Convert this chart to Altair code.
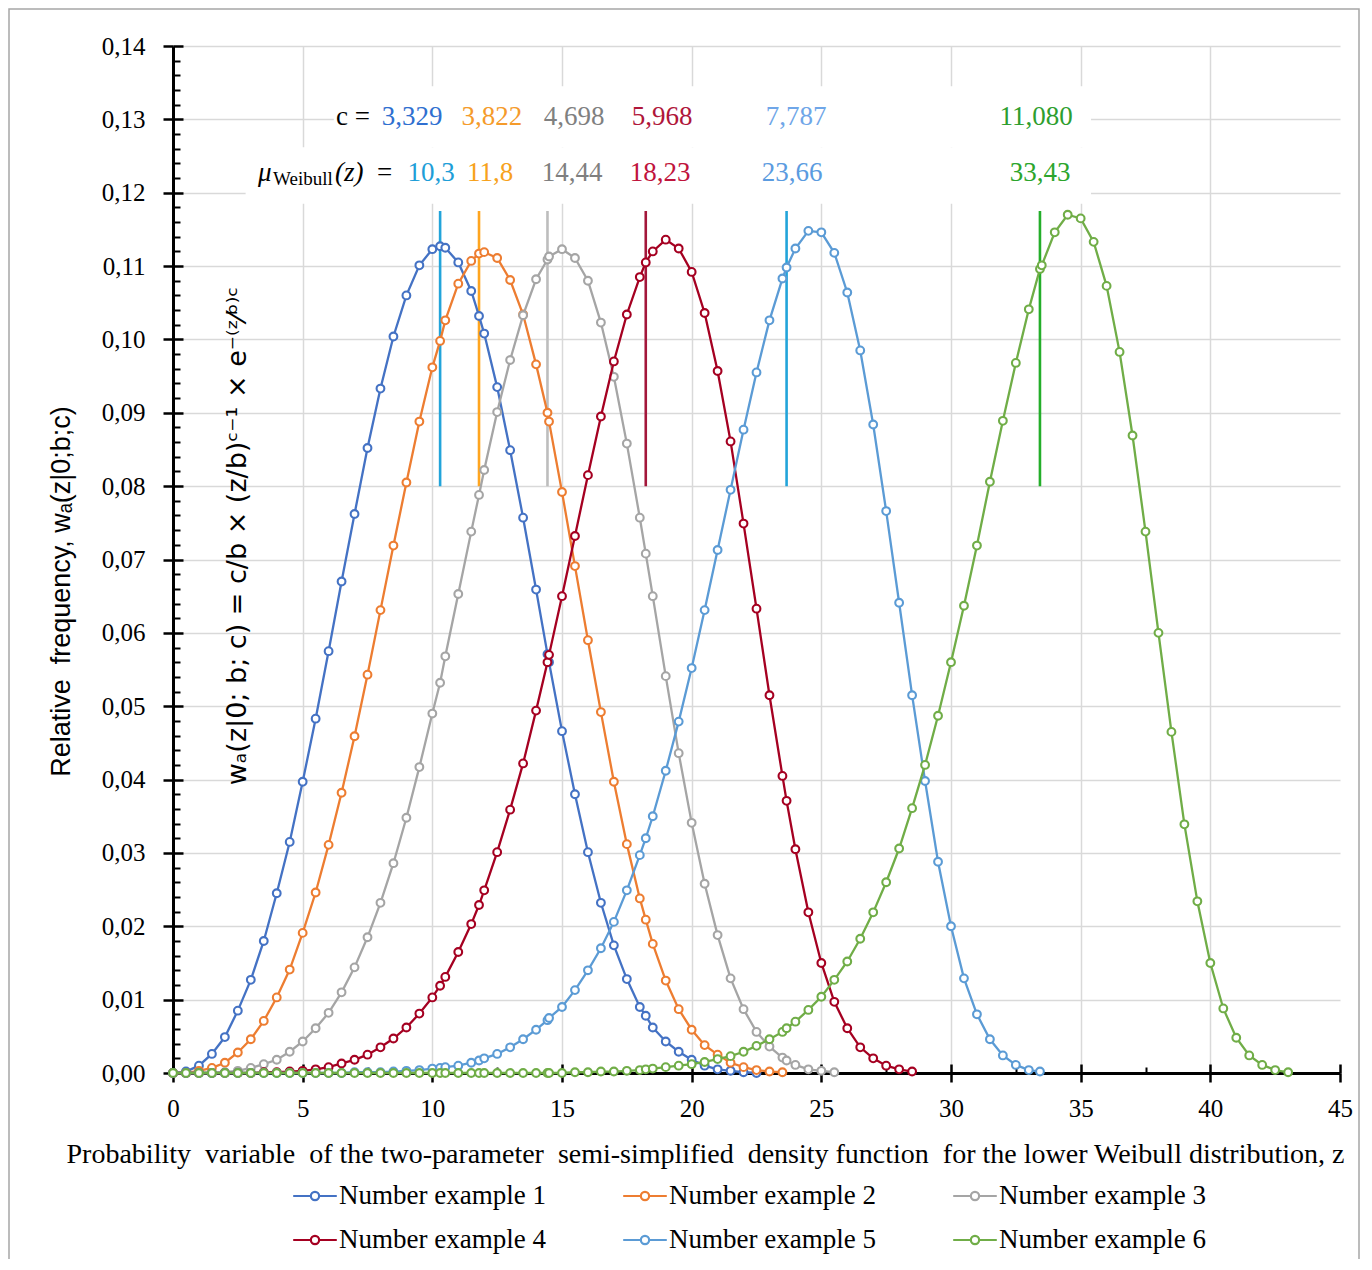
import altair as alt
import pandas as pd

# ---------------- data ----------------
SERIES = ["Number example 1", "Number example 2", "Number example 3",
          "Number example 4", "Number example 5", "Number example 6"]
COLORS = ["#4472C4", "#ED7D31", "#A5A5A5", "#A50021", "#5B9BD5", "#70AD47"]

z1 = [0, 0.5, 1, 1.5, 2, 2.5, 3, 3.5, 4, 4.5, 5, 5.5, 6, 6.5, 7, 7.5, 8, 8.5, 9, 9.5,
      10, 10.3, 10.5, 11, 11.5, 11.8, 12, 12.5, 13, 13.5, 14, 14.44, 14.5, 15, 15.5, 16, 16.5, 17, 17.5, 18,
      18.23, 18.5, 19, 19.5, 20, 20.5, 21, 21.5, 22, 22.5]
w1 = [0, 0.0002, 0.0010, 0.0026, 0.0049, 0.0085, 0.0127, 0.0180, 0.0245, 0.0315,
      0.0397, 0.0483, 0.0575, 0.0670, 0.0762, 0.0852, 0.0933, 0.1004, 0.1060, 0.1101,
      0.1123, 0.1127, 0.1125, 0.1105, 0.1066, 0.1032, 0.1008, 0.0935, 0.0849, 0.0757,
      0.0659, 0.0571, 0.0560, 0.0466, 0.0380, 0.0301, 0.0232, 0.0174, 0.0128, 0.0090,
      0.0078, 0.0062, 0.0043, 0.0029, 0.0018, 0.0010, 0.0005, 0.0003, 0.0001, 0.0000]

z2 = [0, 0.5, 1, 1.5, 2, 2.5, 3, 3.5, 4, 4.5, 5, 5.5, 6, 6.5, 7, 7.5, 8, 8.5, 9, 9.5,
      10, 10.3, 10.5, 11, 11.5, 11.8, 12, 12.5, 13, 13.5, 14, 14.44, 14.5, 15, 15.5, 16, 16.5, 17, 17.5, 18,
      18.23, 18.5, 19, 19.5, 20, 20.5, 21, 21.5, 22, 22.5, 23, 23.5]
w2 = [0, 0.0000, 0.0003, 0.0007, 0.0014, 0.0028, 0.0046, 0.0071, 0.0103, 0.0141,
      0.0191, 0.0246, 0.0311, 0.0382, 0.0459, 0.0543, 0.0631, 0.0719, 0.0805, 0.0888,
      0.0962, 0.0998, 0.1026, 0.1076, 0.1107, 0.1117, 0.1119, 0.1111, 0.1081, 0.1034,
      0.0966, 0.0900, 0.0888, 0.0792, 0.0691, 0.0590, 0.0492, 0.0397, 0.0312, 0.0238,
      0.0209, 0.0176, 0.0126, 0.0087, 0.0059, 0.0038, 0.0025, 0.0014, 0.0008, 0.0004,
      0.0002, 0.0001]

z3 = [0, 0.5, 1, 1.5, 2, 2.5, 3, 3.5, 4, 4.5, 5, 5.5, 6, 6.5, 7, 7.5, 8, 8.5, 9, 9.5,
      10, 10.3, 10.5, 11, 11.5, 11.8, 12, 12.5, 13, 13.5, 14, 14.44, 14.5, 15, 15.5, 16, 16.5, 17, 17.5, 18,
      18.23, 18.5, 19, 19.5, 20, 20.5, 21, 21.5, 22, 22.5, 23, 23.5, 23.66, 24, 24.5, 25, 25.5]
w3 = [0, 0, 0.0000, 0.0000, 0.0001, 0.0003, 0.0007, 0.0012, 0.0018, 0.0029,
      0.0043, 0.0061, 0.0082, 0.0110, 0.0144, 0.0185, 0.0232, 0.0286, 0.0348, 0.0417,
      0.0490, 0.0532, 0.0568, 0.0653, 0.0738, 0.0788, 0.0822, 0.0901, 0.0972, 0.1033,
      0.1082, 0.1109, 0.1113, 0.1123, 0.1111, 0.1080, 0.1023, 0.0949, 0.0858, 0.0757,
      0.0708, 0.0650, 0.0541, 0.0436, 0.0341, 0.0258, 0.0188, 0.0129, 0.0087, 0.0056,
      0.0036, 0.0021, 0.0017, 0.0011, 0.0005, 0.0003, 0.0001]

z4 = [0, 0.5, 1, 1.5, 2, 2.5, 3, 3.5, 4, 4.5, 5, 5.5, 6, 6.5, 7, 7.5, 8, 8.5, 9, 9.5,
      10, 10.3, 10.5, 11, 11.5, 11.8, 12, 12.5, 13, 13.5, 14, 14.44, 14.5, 15, 15.5, 16, 16.5, 17, 17.5, 18,
      18.23, 18.5, 19, 19.5, 20, 20.5, 21, 21.5, 22, 22.5, 23, 23.5, 23.66, 24, 24.5, 25, 25.5, 26, 26.5,
      27, 27.5, 28, 28.5]
w4 = [0, 0, 0, 0, 0, 0, 0.0000, 0.0001, 0.0001, 0.0002,
      0.0003, 0.0005, 0.0008, 0.0013, 0.0018, 0.0025, 0.0035, 0.0047, 0.0062, 0.0081,
      0.0103, 0.0119, 0.0131, 0.0165, 0.0203, 0.0229, 0.0249, 0.0301, 0.0359, 0.0422,
      0.0494, 0.0560, 0.0570, 0.0650, 0.0732, 0.0815, 0.0895, 0.0970, 0.1034, 0.1085,
      0.1105, 0.1120, 0.1136, 0.1124, 0.1092, 0.1036, 0.0957, 0.0861, 0.0749, 0.0633,
      0.0515, 0.0405, 0.0371, 0.0305, 0.0219, 0.0150, 0.0097, 0.0061, 0.0035,
      0.0020, 0.0010, 0.0005, 0.0002]

z5 = [0, 0.5, 1, 1.5, 2, 2.5, 3, 3.5, 4, 4.5, 5, 5.5, 6, 6.5, 7, 7.5, 8, 8.5, 9, 9.5,
      10, 10.3, 10.5, 11, 11.5, 11.8, 12, 12.5, 13, 13.5, 14, 14.44, 14.5, 15, 15.5, 16, 16.5, 17, 17.5, 18,
      18.23, 18.5, 19, 19.5, 20, 20.5, 21, 21.5, 22, 22.5, 23, 23.5, 23.66, 24, 24.5, 25, 25.5, 26, 26.5,
      27, 27.5, 28, 28.5, 29, 29.5, 30, 30.5, 31, 31.5, 32, 32.5, 33, 33.43]
w5 = [0, 0, 0, 0, 0, 0, 0, 0, 0, 0,
      0, 0, 0, 0.0000, 0.0001, 0.0001, 0.0001, 0.0002, 0.0003, 0.0004,
      0.0006, 0.0007, 0.0008, 0.0010, 0.0014, 0.0017, 0.0020, 0.0026, 0.0035, 0.0046,
      0.0059, 0.0072, 0.0075, 0.0090, 0.0113, 0.0140, 0.0170, 0.0206, 0.0249, 0.0297,
      0.0320, 0.0350, 0.0412, 0.0479, 0.0552, 0.0631, 0.0713, 0.0795, 0.0877, 0.0955,
      0.1026, 0.1083, 0.1098, 0.1124, 0.1148, 0.1146, 0.1118, 0.1064, 0.0985,
      0.0884, 0.0766, 0.0641, 0.0515, 0.0398, 0.0288, 0.0200, 0.0129, 0.0080, 0.0046,
      0.0024, 0.0011, 0.0004, 0.0002]

z6 = [0, 0.5, 1, 1.5, 2, 2.5, 3, 3.5, 4, 4.5, 5, 5.5, 6, 6.5, 7, 7.5, 8, 8.5, 9, 9.5,
      10, 10.3, 10.5, 11, 11.5, 11.8, 12, 12.5, 13, 13.5, 14, 14.44, 14.5, 15, 15.5, 16, 16.5, 17, 17.5, 18,
      18.23, 18.5, 19, 19.5, 20, 20.5, 21, 21.5, 22, 22.5, 23, 23.5, 23.66, 24, 24.5, 25, 25.5, 26, 26.5,
      27, 27.5, 28, 28.5, 29, 29.5, 30, 30.5, 31, 31.5, 32, 32.5, 33, 33.43, 33.5, 34, 34.5, 35, 35.5,
      36, 36.5, 37, 37.5, 38, 38.5, 39, 39.5, 40, 40.5, 41, 41.5, 42, 42.5, 43]
w6 = [0, 0, 0, 0, 0, 0, 0, 0, 0, 0,
      0, 0, 0, 0, 0, 0, 0, 0, 0, 0,
      0, 0, 0, 0, 0, 0, 0, 0, 0, 0,
      0, 0, 0, 0.0000, 0.0001, 0.0001, 0.0002, 0.0002, 0.0003, 0.0004,
      0.0005, 0.0006, 0.0008, 0.0010, 0.0012, 0.0015, 0.0019, 0.0023, 0.0029, 0.0037,
      0.0046, 0.0056, 0.0061, 0.0070, 0.0086, 0.0104, 0.0127, 0.0152, 0.0183,
      0.0219, 0.0260, 0.0306, 0.0361, 0.0420, 0.0487, 0.0560, 0.0637, 0.0719, 0.0806,
      0.0889, 0.0968, 0.1041, 0.1096, 0.1101, 0.1146, 0.1170, 0.1165, 0.1133,
      0.1073, 0.0983, 0.0869, 0.0738, 0.0600, 0.0465, 0.0339, 0.0234, 0.0150, 0.0088,
      0.0048, 0.0024, 0.0011, 0.0004, 0.0001]

Z = [z1, z2, z3, z4, z5, z6]
W = [w1, w2, w3, w4, w5, w6]

# mean (expected value) markers
MEANS = [10.3, 11.8, 14.44, 18.23, 23.66, 33.43]
MEAN_COLORS = ["#22A4DA", "#FFA51F", "#BDBDBD", "#A3173B", "#22A4DA", "#24AE2A"]
MEAN_Y0 = [0.08] * 6
MEAN_Y1 = [0.1175] * 6

# annotation rows
C_LABELS = ["3,329", "3,822", "4,698", "5,968", "7,787", "11,080"]
C_POS = [9.22, 12.30, 15.47, 18.86, 24.03, 33.28]
C_COLORS = ["#2F6FD0", "#F59B2B", "#808080", "#B0163A", "#6FA6E8", "#2E9E2E"]
MU_LABELS = ["10,3", "11,8", "14,44", "18,23", "23,66", "33,43"]
MU_POS = [9.95, 12.23, 15.39, 18.78, 23.87, 33.44]
MU_COLORS = ["#1E9ED8", "#F7A21C", "#7F7F7F", "#C0143C", "#5B9BE0", "#2CA52C"]
ROW_C_Y = 0.1303
ROW_MU_Y = 0.1227

# white background boxes behind the annotation rows
BOX_X1 = [2.8, 6.2]
BOX_X2 = [35.4, 35.4]
BOX_Y1 = [0.1185, 0.1262]
BOX_Y2 = [0.1262, 0.1345]

# ---------------- build tables ----------------
rows = []
for name, zs, ws in zip(SERIES, Z, W):
    assert len(zs) == len(ws), (name, len(zs), len(ws))
    for zv, wv in zip(zs, ws):
        rows.append({"series": name, "z": zv, "w": wv})
df = pd.DataFrame(rows)

mean_df = pd.DataFrame({"z": MEANS, "y0": MEAN_Y0, "y1": MEAN_Y1, "col": MEAN_COLORS})
box_df = pd.DataFrame({"x1": BOX_X1, "x2": BOX_X2, "y1": BOX_Y1, "y2": BOX_Y2})

ann_rows = []
for t, p, c in zip(C_LABELS, C_POS, C_COLORS):
    ann_rows.append({"t": t, "x": p, "y": ROW_C_Y, "col": c})
for t, p, c in zip(MU_LABELS, MU_POS, MU_COLORS):
    ann_rows.append({"t": t, "x": p, "y": ROW_MU_Y, "col": c})
ann_df = pd.DataFrame(ann_rows)

lab_df = pd.DataFrame({
    "t": ["c =", "="],
    "x": [6.29, 7.87],
    "y": [ROW_C_Y, ROW_MU_Y],
})
ital_df = pd.DataFrame({"t": ["μ", "(z)"], "x": [3.28, 6.25], "y": [ROW_MU_Y, ROW_MU_Y]})
sub_df = pd.DataFrame({"t": ["Weibull"], "x": [3.86], "y": [ROW_MU_Y - 0.0008]})
formula_df = pd.DataFrame({
    "t": ["wₐ(z|0; b; c) = c/b × (z/b)ᶜ⁻¹ × e⁻⁽ᶻ⁄ᵇ⁾ᶜ"],
    "x": [2.5], "y": [0.0732]})

# ---------------- scales / axes ----------------
SERIF = "Liberation Serif"
SANS = "Liberation Sans"
NB = "\u00a0"
xscale = alt.Scale(domain=[0, 45], nice=False, zero=False)
yscale = alt.Scale(domain=[0, 0.14], nice=False, zero=False)
color_scale = alt.Scale(domain=SERIES, range=COLORS)

X_MAJOR = [0, 5, 10, 15, 20, 25, 30, 35, 40, 45]
X_MINOR = [2.5, 7.5, 12.5, 17.5, 22.5, 27.5, 32.5, 37.5, 42.5]
Y_MAJOR = [round(i * 0.01, 2) for i in range(15)]
Y_MINOR = [round(i * 0.002, 3) for i in range(71) if i % 5 != 0]

X_TITLE = ("Probability" + NB + " variable" + NB + " of the two-parameter" + NB +
           " semi-simplified" + NB + " density function" + NB +
           " for the lower Weibull distribution, z")

grid_x = alt.Axis(orient="bottom", values=X_MAJOR[1:-1], grid=True, gridColor="#D9D9D9",
                  gridWidth=1.5, domain=False, ticks=False, labels=False, title=None)
grid_y = alt.Axis(orient="left", values=Y_MAJOR[1:], grid=True, gridColor="#D9D9D9",
                  gridWidth=1.5, domain=False, ticks=False, labels=False, title=None)

main_x = alt.Axis(orient="bottom", values=X_MAJOR, grid=False, domain=True, domainColor="black",
                  domainWidth=3, ticks=True, tickColor="black", tickWidth=2.5, tickSize=9,
                  labelFont=SERIF, labelFontSize=25, labelColor="black", labelPadding=14,
                  labelFlush=False, labelOverlap=False, format="d",
                  title=X_TITLE,
                  titleFont=SERIF, titleFontSize=28, titleFontWeight="normal", titleColor="black",
                  titleX=532, titleY=89, titleAlign="center", titleBaseline="alphabetic",
                  titleLimit=2000)
main_y = alt.Axis(orient="left", values=Y_MAJOR, grid=False, domain=True, domainColor="black",
                  domainWidth=3, ticks=True, tickColor="black", tickWidth=2.5, tickSize=10,
                  labelFont=SERIF, labelFontSize=25, labelColor="black", labelPadding=18,
                  labelFlush=False, labelOverlap=False,
                  labelExpr="replace(format(datum.value, '.2f'), '.', ',')",
                  title="Relative" + NB + " frequency, wₐ(z|0;b;c)", titleFont=SANS,
                  titleFontSize=27, titleFontWeight="normal", titleColor="black", titleAngle=270,
                  titleX=-104, titleY=545, titleAlign="center", titleBaseline="alphabetic",
                  titleLimit=2000)

inner_x = alt.Axis(orient="bottom", values=X_MAJOR, offset=-9, tickSize=9, tickWidth=2.5,
                   tickColor="black", domain=False, labels=False, grid=False, title=None)
inner_y = alt.Axis(orient="left", values=Y_MAJOR, offset=-10, tickSize=10, tickWidth=2.5,
                   tickColor="black", domain=False, labels=False, grid=False, title=None)
minor_x = alt.Axis(orient="bottom", values=X_MINOR, offset=-6, tickSize=6, tickWidth=2,
                   tickColor="black", domain=False, labels=False, grid=False, title=None)
minor_y = alt.Axis(orient="left", values=Y_MINOR, offset=-7, tickSize=7, tickWidth=2,
                   tickColor="black", domain=False, labels=False, grid=False, title=None)


def ghost(ax_x, ax_y):
    return alt.Chart(df).mark_point(opacity=0).encode(
        x=alt.X("z:Q", scale=xscale, axis=ax_x),
        y=alt.Y("w:Q", scale=yscale, axis=ax_y),
    )


SYMBOL = ("M-1,0L-0.19,0M0.19,0L1,0M-0.19,0A0.19,0.19,0,1,0,0.19,0"
          "A0.19,0.19,0,1,0,-0.19,0Z")
LEG = alt.Legend(orient="none", legendX=119, legendY=1127, direction="horizontal",
                 columns=3, columnPadding=72, rowPadding=8, symbolType=SYMBOL,
                 symbolSize=1900, symbolStrokeWidth=2.2, symbolFillColor="white",
                 labelFont=SERIF, labelFontSize=27, labelColor="black", labelOffset=1,
                 labelLimit=400, title=None)

layers = [ghost(grid_x, grid_y)]

layers.append(alt.Chart(box_df).mark_rect(fill="white").encode(
    x=alt.X("x1:Q", scale=xscale, axis=None), x2="x2:Q",
    y=alt.Y("y1:Q", scale=yscale, axis=None), y2="y2:Q"))

layers.append(alt.Chart(mean_df).mark_rule(strokeWidth=2.6).encode(
    x=alt.X("z:Q", scale=xscale, axis=None),
    y=alt.Y("y0:Q", scale=yscale, axis=None), y2="y1:Q",
    stroke=alt.Stroke("col:N", scale=None)))

for s in SERIES:
    base = alt.Chart(df).transform_filter(alt.datum.series == s)
    enc = dict(
        x=alt.X("z:Q", scale=xscale, axis=None),
        y=alt.Y("w:Q", scale=yscale, axis=None),
        stroke=alt.Stroke("series:N", scale=color_scale, legend=LEG),
    )
    layers.append(base.mark_line(strokeWidth=2.3).encode(**enc))
    layers.append(base.mark_point(shape="circle", filled=True, fill="white", opacity=1,
                                  size=60, strokeWidth=2.1).encode(**enc))

layers.append(alt.Chart(ann_df).mark_text(font=SERIF, fontSize=27, align="center",
                                          baseline="middle").encode(
    x=alt.X("x:Q", scale=xscale, axis=None),
    y=alt.Y("y:Q", scale=yscale, axis=None),
    text="t:N", color=alt.Color("col:N", scale=None)))

layers.append(alt.Chart(lab_df).mark_text(font=SERIF, fontSize=27, align="left",
                                          baseline="middle", color="black").encode(
    x=alt.X("x:Q", scale=xscale, axis=None),
    y=alt.Y("y:Q", scale=yscale, axis=None), text="t:N"))

layers.append(alt.Chart(ital_df).mark_text(font=SERIF, fontSize=27, fontStyle="italic",
                                           align="left", baseline="middle", color="black").encode(
    x=alt.X("x:Q", scale=xscale, axis=None),
    y=alt.Y("y:Q", scale=yscale, axis=None), text="t:N"))

layers.append(alt.Chart(sub_df).mark_text(font=SERIF, fontSize=19, align="left",
                                          baseline="middle", color="black").encode(
    x=alt.X("x:Q", scale=xscale, axis=None),
    y=alt.Y("y:Q", scale=yscale, axis=None), text="t:N"))

layers.append(alt.Chart(formula_df).mark_text(font="DejaVu Sans", fontSize=27, angle=270,
                                              align="center", baseline="middle",
                                              color="black").encode(
    x=alt.X("x:Q", scale=xscale, axis=None),
    y=alt.Y("y:Q", scale=yscale, axis=None), text="t:N"))

# thin grey frame around the whole figure (as in the reference)
layers.append(alt.Chart(box_df.head(1)).mark_rect(fill=None, stroke="#A6A6A6", strokeWidth=1.5,
                                                   clip=False).encode(
    x=alt.value(-164), x2=alt.value(1186), y=alt.value(-37), y2=alt.value(1300)))

layers += [ghost(minor_x, minor_y), ghost(inner_x, inner_y), ghost(main_x, main_y)]

chart = alt.layer(*layers).resolve_axis(x="independent", y="independent").properties(
    width=1167, height=1027,
    autosize=alt.AutoSizeParams(type="none"),
    padding={"left": 165, "top": 38, "right": 20, "bottom": 186},
    background="white",
).configure_view(stroke=None)

chart.save("out.html", embed_options={"renderer": "svg", "actions": False})
